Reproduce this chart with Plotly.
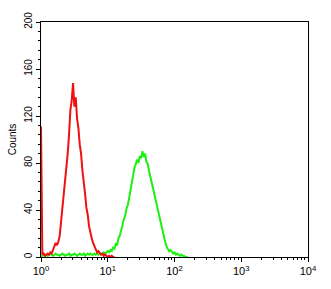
import numpy as np
import plotly.graph_objects as go

# log10 channel step
step = 0.02

red_counts = [111, 2, 3, 1, 2, 3, 2, 4, 3, 6, 8, 12, 10, 13, 18, 30, 38, 52, 60, 76,
              88, 104, 125, 133, 148, 128, 136, 118, 110, 96, 88, 74, 66, 54, 42, 36, 26, 20, 16, 12,
              9, 6, 4, 5, 3, 2, 3, 1, 2, 1, 0, 1, 0, 1, 0, 0]

green_counts = [0, 1, 2, 1, 2, 1, 2, 3, 2, 1, 2, 3, 2, 2, 1, 2, 3, 2, 1, 2,
                2, 3, 1, 2, 2, 3, 2, 1, 2, 3, 2, 2, 3, 1, 2, 3, 2, 3, 2, 2,
                3, 2, 3, 2, 3, 2, 3, 4, 3, 4, 5, 4, 6, 5, 8, 7, 11, 10, 16, 18,
                24, 27, 32, 35, 41, 44, 50, 57, 63, 70, 76, 79, 83, 80, 86, 84, 90, 85, 88, 81,
                79, 73, 68, 61, 57, 51, 47, 41, 36, 31, 26, 22, 16, 13, 9, 7, 5, 6, 4, 3,
                4, 2, 3, 2, 1, 2, 1, 1, 0, 0, 0]

x_tickvals = [1, 10, 100, 1000, 10000]
x_ticktext = ["10<sup>0</sup>", "10<sup>1</sup>", "10<sup>2</sup>", "10<sup>3</sup>", "10<sup>4</sup>"]
y_tickvals = [0, 40, 80, 120, 160, 200]

red_x = [10 ** (i * step) for i in range(len(red_counts))]
green_x = [10 ** (i * step) for i in range(len(green_counts))]

fig = go.Figure()
fig.add_trace(go.Scatter(x=green_x, y=green_counts, mode="lines",
                         line=dict(color="#1cf010", width=2), hoverinfo="skip"))
fig.add_trace(go.Scatter(x=red_x, y=red_counts, mode="lines",
                         line=dict(color="#f01010", width=2), hoverinfo="skip"))

minor_x = [k * 10 ** d for d in range(4) for k in range(2, 10)]

fig.update_layout(
    width=331, height=289,
    margin=dict(l=41, r=23, t=21, b=30),
    paper_bgcolor="white", plot_bgcolor="white",
    showlegend=False,
    font=dict(family="Liberation Sans, Arial, sans-serif", size=10, color="black"),
    xaxis=dict(type="log", range=[0, 4], tickmode="array", tickvals=x_tickvals,
               ticktext=x_ticktext, ticks="outside", ticklen=4, tickwidth=1,
               tickcolor="black", showline=True, linecolor="black", linewidth=1,
               mirror=True, showgrid=False, zeroline=False,
               tickfont=dict(size=11),
               minor=dict(tickvals=minor_x, ticks="outside", ticklen=2,
                          tickcolor="black", showgrid=False)),
    yaxis=dict(range=[0, 200], tickmode="array", tickvals=y_tickvals,
               ticks="outside", ticklen=4, tickwidth=1, tickcolor="black",
               showline=True, linecolor="black", linewidth=1, mirror=True,
               showgrid=False, zeroline=False, tickangle=-90,
               tickfont=dict(size=10),
               title=dict(text="Counts", font=dict(size=10), standoff=4),
               minor=dict(dtick=8, ticks="outside", ticklen=2,
                          tickcolor="black", showgrid=False)),
)

fig.write_html("out.html")
